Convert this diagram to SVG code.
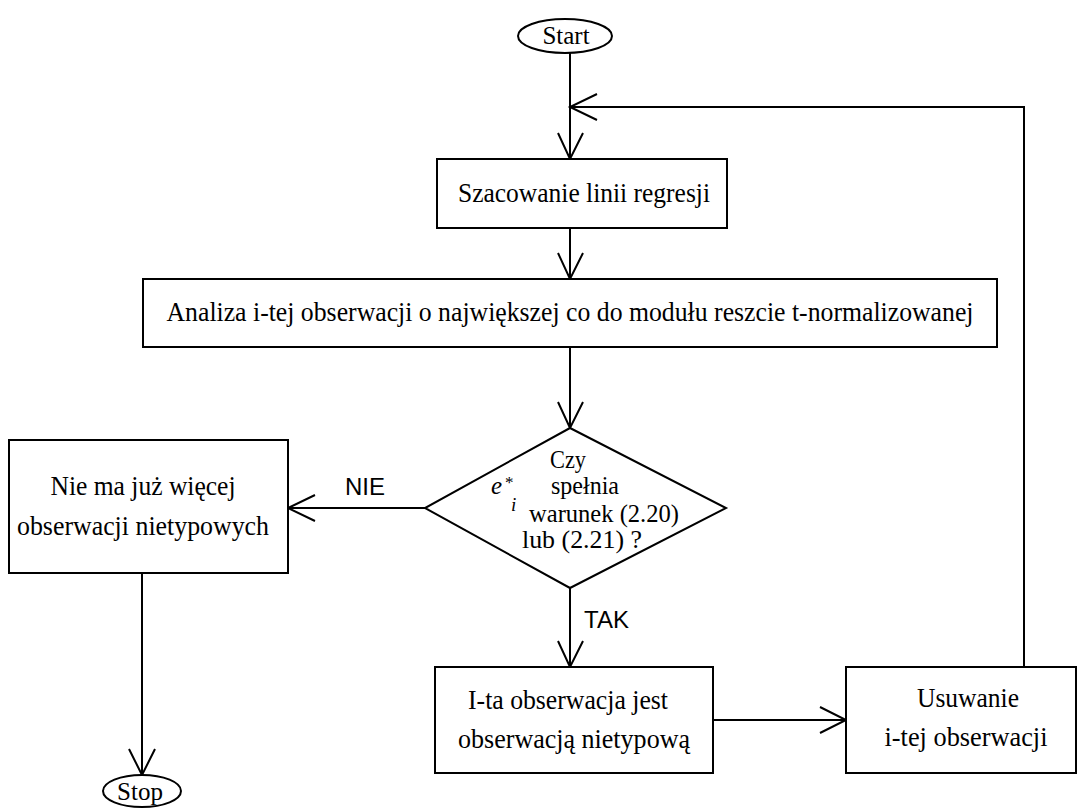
<svg xmlns="http://www.w3.org/2000/svg" width="1079" height="811" viewBox="0 0 1079 811">
<style>
.box{fill:#fff;stroke:#000;stroke-width:2}
.ln{fill:none;stroke:#000;stroke-width:2}
.t{font-family:"Liberation Serif","Times New Roman",serif;font-size:28px;fill:#000;text-anchor:middle}
.td{font-family:"Liberation Serif","Times New Roman",serif;font-size:25px;fill:#000;text-anchor:middle}
.te{font-family:"Liberation Serif","Times New Roman",serif;font-size:25px;fill:#000;text-anchor:middle}
.lab{font-family:"Liberation Sans",Arial,sans-serif;font-size:24px;fill:#000}
</style>
<rect width="1079" height="811" fill="#fff"/>
<g id="connectors">
<path class="ln" d="M570 53V159M558 133L570 159L583 133"/>
<path class="ln" d="M1024 667V107H570M597 94L570 107L597 120"/>
<path class="ln" d="M570 228V279M558 253L570 279L583 253"/>
<path class="ln" d="M570 347V428M558 402L570 428L583 402"/>
<path class="ln" d="M570 588V667M558 641L570 667L583 641"/>
<path class="ln" d="M425 508H288M315 495L288 508L315 521"/>
<path class="ln" d="M142 573V775M129 749L142 775L155 749"/>
<path class="ln" d="M713 720H846M820 707L846 720L820 733"/>
<text class="lab" x="345" y="495">NIE</text>
<text class="lab" x="584" y="628">TAK</text>
</g>
<g id="start">
<ellipse class="box" cx="565" cy="36" rx="47" ry="17"/>
<text class="te" x="566" y="44">Start</text>
</g>
<g id="szacowanie">
<rect class="box" x="437" y="159" width="290" height="69"/>
<text class="t" x="584" y="202" textLength="252" lengthAdjust="spacingAndGlyphs">Szacowanie linii regresji</text>
</g>
<g id="analiza">
<rect class="box" x="143" y="279" width="854" height="68"/>
<text class="t" x="570" y="321" textLength="807" lengthAdjust="spacingAndGlyphs">Analiza i-tej obserwacji o największej co do modułu reszcie t-normalizowanej</text>
</g>
<g id="decyzja">
<polygon class="box" points="570,428 726,508 570,588 425,508"/>
<text class="td" x="568" y="468" textLength="36" lengthAdjust="spacingAndGlyphs">Czy</text>
<text class="td" x="585" y="494" textLength="68" lengthAdjust="spacingAndGlyphs">spełnia</text>
<text class="td" x="604" y="522" textLength="150" lengthAdjust="spacingAndGlyphs">warunek (2.20)</text>
<text class="td" x="582" y="548" textLength="120" lengthAdjust="spacingAndGlyphs">lub (2.21) ?</text>
<text x="491" y="494" font-family="Liberation Serif,serif" font-style="italic" font-size="25">e</text>
<text x="505" y="488" font-family="Liberation Serif,serif" font-size="17">*</text>
<text x="511" y="511" font-family="Liberation Serif,serif" font-style="italic" font-size="19">i</text>
</g>
<g id="brak">
<rect class="box" x="9" y="440" width="279" height="133"/>
<text class="t" x="143" y="495" textLength="185" lengthAdjust="spacingAndGlyphs">Nie ma już więcej</text>
<text class="t" x="143" y="535" textLength="252" lengthAdjust="spacingAndGlyphs">obserwacji nietypowych</text>
</g>
<g id="stop">
<ellipse class="box" cx="142" cy="791" rx="39" ry="16"/>
<text class="te" x="140" y="800">Stop</text>
</g>
<g id="nietypowa">
<rect class="box" x="435" y="667" width="278" height="106"/>
<text class="t" x="568" y="709" textLength="200" lengthAdjust="spacingAndGlyphs">I-ta obserwacja jest</text>
<text class="t" x="574" y="748" textLength="232" lengthAdjust="spacingAndGlyphs">obserwacją nietypową</text>
</g>
<g id="usuwanie">
<rect class="box" x="846" y="667" width="230" height="106"/>
<text class="t" x="968" y="707" textLength="102" lengthAdjust="spacingAndGlyphs">Usuwanie</text>
<text class="t" x="966" y="746" textLength="163" lengthAdjust="spacingAndGlyphs">i-tej obserwacji</text>
</g>
</svg>
